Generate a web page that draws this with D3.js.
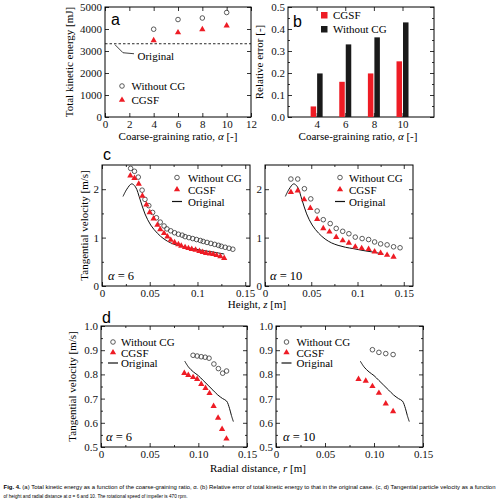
<!DOCTYPE html>
<html>
<head>
<meta charset="utf-8">
<script src="https://cdn.jsdelivr.net/npm/d3@7"></script>
<style>
body { margin: 0; background: #fff; }
svg { display: block; }
</style>
</head>
<body>
<svg id="fig" width="500" height="504"></svg>
<script>
// (a) total kinetic energy
var alphaRatios = [4, 6, 8, 10]
var energyWithoutCG = [3990, 4430, 4500, 4750]
var energyCGSF = [3480, 3840, 3980, 4150]
var energyOriginal = 3330

// (b) relative error
var errorCGSF = [0.048, 0.16, 0.198, 0.253]
var errorWithoutCG = [0.198, 0.33, 0.362, 0.43]

// (c) velocity vs height, original run (same in both panels)
var heightOrigZ = [0.022, 0.026, 0.031, 0.035, 0.040, 0.045, 0.051, 0.058, 0.065, 0.072, 0.079, 0.087, 0.096, 0.107, 0.117, 0.128]
var heightOrigV = [1.85, 2.00, 2.11, 2.05, 1.78, 1.49, 1.26, 1.09, 0.97, 0.89, 0.84, 0.80, 0.77, 0.73, 0.70, 0.66]

// alpha = 6
var h6WithoutZ = [0.030, 0.034, 0.038, 0.042, 0.045, 0.049, 0.053, 0.057, 0.061, 0.065, 0.068, 0.072, 0.076, 0.080, 0.084, 0.087, 0.091, 0.095, 0.099, 0.103, 0.106, 0.110, 0.114, 0.118, 0.122, 0.125, 0.129, 0.133, 0.137]
var h6WithoutV = [2.43, 2.37, 2.25, 1.98, 1.79, 1.66, 1.52, 1.41, 1.32, 1.24, 1.18, 1.14, 1.10, 1.07, 1.05, 1.02, 1.00, 0.98, 0.96, 0.94, 0.92, 0.90, 0.88, 0.86, 0.84, 0.82, 0.80, 0.78, 0.76]
var h6CgsfZ = [0.0297, 0.034, 0.0385, 0.0423, 0.0465, 0.050, 0.054, 0.058, 0.061, 0.065, 0.0685, 0.072, 0.076, 0.080, 0.083, 0.087, 0.0905, 0.094, 0.098, 0.102, 0.1055, 0.109, 0.113, 0.1165, 0.120, 0.124, 0.128]
var h6CgsfV = [2.28, 2.23, 2.11, 1.86, 1.68, 1.52, 1.39, 1.26, 1.17, 1.09, 1.02, 0.95, 0.90, 0.86, 0.83, 0.80, 0.78, 0.76, 0.745, 0.72, 0.70, 0.68, 0.67, 0.655, 0.635, 0.61, 0.575]

// alpha = 10
var h10WithoutZ = [0.028, 0.0354, 0.0426, 0.0495, 0.0564, 0.063, 0.0705, 0.077, 0.084, 0.0907, 0.0976, 0.105, 0.112, 0.1185, 0.125, 0.132, 0.139, 0.146]
var h10WithoutV = [2.21, 2.21, 2.01, 1.80, 1.55, 1.37, 1.29, 1.19, 1.13, 1.08, 1.01, 0.98, 0.96, 0.91, 0.87, 0.85, 0.81, 0.79]
var h10CgsfZ = [0.028, 0.0354, 0.0423, 0.049, 0.0564, 0.063, 0.0697, 0.077, 0.084, 0.0907, 0.0976, 0.1045, 0.112, 0.1185, 0.125, 0.132, 0.139]
var h10CgsfV = [1.94, 1.97, 1.79, 1.61, 1.38, 1.19, 1.12, 1.01, 0.94, 0.89, 0.81, 0.78, 0.76, 0.71, 0.68, 0.64, 0.60]

// (d) velocity vs radial distance
var radialOrigR = [0.086, 0.090, 0.095, 0.100, 0.105, 0.110, 0.115, 0.120, 0.125, 0.129, 0.132, 0.134, 0.136]
var radialOrigV = [0.855, 0.83, 0.81, 0.795, 0.775, 0.755, 0.735, 0.715, 0.70, 0.69, 0.66, 0.63, 0.605]
var r6WithoutR = [0.0946, 0.0988, 0.103, 0.107, 0.111, 0.116, 0.1206, 0.125, 0.129]
var r6WithoutV = [0.879, 0.876, 0.873, 0.871, 0.867, 0.843, 0.824, 0.805, 0.814]
var r6CgsfR = [0.0856, 0.0897, 0.0946, 0.0988, 0.103, 0.1074, 0.1115, 0.1157, 0.1203, 0.1244, 0.1289]
var r6CgsfV = [0.805, 0.797, 0.788, 0.780, 0.760, 0.743, 0.722, 0.669, 0.620, 0.574, 0.534]
var r10WithoutR = [0.0984, 0.105, 0.112, 0.1195]
var r10WithoutV = [0.902, 0.891, 0.886, 0.882]
var r10CgsfR = [0.0842, 0.0916, 0.0984, 0.105, 0.112, 0.1195]
var r10CgsfV = [0.78, 0.773, 0.751, 0.723, 0.679, 0.647]

// ticks
var aXTicks = [0, 2, 4, 6, 8, 10, 12]
var aYTicks = [0, 1000, 2000, 3000, 4000, 5000]
var bYTicks = [0, 0.1, 0.2, 0.3, 0.4, 0.5]
var bYMinor = [0.05, 0.15, 0.25, 0.35, 0.45]
var cXTicks = [0, 0.05, 0.1, 0.15]
var cXMinor = [0.025, 0.075, 0.125]
var cYTicks = [0, 1, 2]
var cYMinor = [0.5, 1.5]
var dYTicks = [0.5, 0.6, 0.7, 0.8, 0.9, 1.0]
var dYMinor = [0.55, 0.65, 0.75, 0.85, 0.95]

var RED = '#ee1c25'
var SERIF = 'Liberation Serif'
var SANS = 'Liberation Sans'
var svg = d3.select('#fig')
svg.append('rect').attr('width', 500).attr('height', 504).attr('fill', '#fff')

function zip(a, b) {
	return a.map(function(v, i) { return [v, b[i]] })
}

function frame(x, y, o) {
	var g = svg.append('g')
	var xr = x.range(), yr = y.range()
	function clean(sel) {
		sel.select('.domain').remove()
		sel.selectAll('.tick line').attr('stroke', '#000').attr('stroke-width', 0.8)
		sel.selectAll('text').attr('font-size', 11).attr('fill', '#111')
	}
	g.append('g').attr('transform', 'translate(0,' + yr[0] + ')')
		.call(d3.axisBottom(x).tickValues(o.xTicks).tickSize(-4).tickPadding(3).tickFormat(o.xFmt)).call(clean)
	g.append('g').attr('transform', 'translate(0,' + yr[1] + ')')
		.call(d3.axisTop(x).tickValues(o.xTicks).tickSize(-4).tickFormat('')).call(clean)
	g.append('g').attr('transform', 'translate(' + xr[0] + ',0)')
		.call(d3.axisLeft(y).tickValues(o.yTicks).tickSize(-4).tickPadding(3).tickFormat(o.yFmt)).call(clean)
	g.append('g').attr('transform', 'translate(' + xr[1] + ',0)')
		.call(d3.axisRight(y).tickValues(o.yTicks).tickSize(-4).tickFormat('')).call(clean)
	if (o.xMinor) {
		g.append('g').attr('transform', 'translate(0,' + yr[0] + ')')
			.call(d3.axisBottom(x).tickValues(o.xMinor).tickSize(-2).tickFormat('')).call(clean)
		g.append('g').attr('transform', 'translate(0,' + yr[1] + ')')
			.call(d3.axisTop(x).tickValues(o.xMinor).tickSize(-2).tickFormat('')).call(clean)
	}
	if (o.yMinor) {
		g.append('g').attr('transform', 'translate(' + xr[0] + ',0)')
			.call(d3.axisLeft(y).tickValues(o.yMinor).tickSize(-2).tickFormat('')).call(clean)
		g.append('g').attr('transform', 'translate(' + xr[1] + ',0)')
			.call(d3.axisRight(y).tickValues(o.yMinor).tickSize(-2).tickFormat('')).call(clean)
	}
	g.append('rect')
		.attr('x', xr[0]).attr('y', yr[1])
		.attr('width', xr[1] - xr[0]).attr('height', yr[0] - yr[1])
		.attr('fill', 'none').attr('stroke', '#000').attr('stroke-width', 1)
	return g
}

var tri = d3.symbol().type(d3.symbolTriangle).size(17)

function circles(x, y, xs, ys) {
	svg.append('g').selectAll('circle')
		.data(zip(xs, ys))
		.enter().append('circle')
		.attr('cx', function(d) { return x(d[0]) })
		.attr('cy', function(d) { return y(d[1]) })
		.attr('r', 2.3)
		.attr('fill', 'none')
		.attr('stroke', '#333')
		.attr('stroke-width', 0.8)
}

function triangles(x, y, xs, ys) {
	svg.append('g').selectAll('path')
		.data(zip(xs, ys))
		.enter().append('path')
		.attr('d', tri)
		.attr('transform', function(d) { return 'translate(' + x(d[0]) + ',' + y(d[1]) + ')' })
		.attr('fill', RED)
}

function curve(x, y, xs, ys) {
	var line = d3.line()
		.x(function(d) { return x(d[0]) })
		.y(function(d) { return y(d[1]) })
		.curve(d3.curveCatmullRom)
	svg.append('path').datum(zip(xs, ys))
		.attr('d', line)
		.attr('fill', 'none')
		.attr('stroke', '#111')
		.attr('stroke-width', 1)
}

function legend(mx, tx, ys, withLine) {
	var g = svg.append('g')
	g.append('circle').attr('cx', mx).attr('cy', ys[0]).attr('r', 2.3)
		.attr('fill', 'none').attr('stroke', '#333').attr('stroke-width', 0.8)
	g.append('text').attr('x', tx).attr('y', ys[0] + 4).attr('font-size', 11).text('Without CG')
	g.append('path').attr('d', tri).attr('transform', 'translate(' + mx + ',' + ys[1] + ')').attr('fill', RED)
	g.append('text').attr('x', tx).attr('y', ys[1] + 4).attr('font-size', 11).text('CGSF')
	if (withLine) {
		g.append('line').attr('x1', mx - 5).attr('x2', mx + 5).attr('y1', ys[2]).attr('y2', ys[2])
			.attr('stroke', '#111').attr('stroke-width', 1.2)
		g.append('text').attr('x', tx).attr('y', ys[2] + 4).attr('font-size', 11).text('Original')
	}
}

function panelLetter(x, y, s) {
	svg.append('text').attr('class', 'sans').attr('x', x).attr('y', y)
		.attr('font-size', 16).text(s)
}

function alphaLabel(x, y, v) {
	var t = svg.append('text').attr('x', x).attr('y', y).attr('font-size', 12.5)
	t.append('tspan').attr('font-style', 'italic').text('α')
	t.append('tspan').text(' = ' + v)
}

function yTitle(x, y, s) {
	svg.append('text').attr('transform', 'translate(' + x + ',' + y + ') rotate(-90)')
		.attr('text-anchor', 'middle').attr('font-size', 11).text(s)
}

function alphaTitle(x, y) {
	var t = svg.append('text').attr('x', x).attr('y', y).attr('text-anchor', 'middle').attr('font-size', 11)
	t.append('tspan').text('Coarse-graining ratio, ')
	t.append('tspan').attr('font-style', 'italic').text('α')
	t.append('tspan').text(' [-]')
}

function varTitle(x, y, pre, v, post) {
	var t = svg.append('text').attr('x', x).attr('y', y).attr('text-anchor', 'middle').attr('font-size', 11)
	t.append('tspan').text(pre)
	t.append('tspan').attr('font-style', 'italic').text(v)
	t.append('tspan').text(post)
}

// ---- panel a
var xa = d3.scaleLinear().domain([0, 12]).range([105, 251])
var ya = d3.scaleLinear().domain([0, 5000]).range([117, 7])
frame(xa, ya, { xTicks: aXTicks, yTicks: aYTicks, xFmt: d3.format('d'), yFmt: d3.format('d') })
svg.append('line').attr('x1', xa(0)).attr('x2', xa(12))
	.attr('y1', ya(energyOriginal)).attr('y2', ya(energyOriginal))
	.attr('stroke', '#111').attr('stroke-width', 0.9).attr('stroke-dasharray', '2.5,2')
svg.append('path')
	.attr('d', 'M' + (xa(0) + 10) + ',' + (ya(energyOriginal) + 1) + 'l8,8l11,1')
	.attr('fill', 'none').attr('stroke', '#111').attr('stroke-width', 0.8)
svg.append('text').attr('x', 137.5).attr('y', 59.5).attr('font-size', 11).text('Original')
circles(xa, ya, alphaRatios, energyWithoutCG)
triangles(xa, ya, alphaRatios, energyCGSF)
legend(122, 131.5, [86, 100], false)
panelLetter(111, 25, 'a')
yTitle(73, 62, 'Total kinetic energy [mJ]')
alphaTitle(178, 139.5)

// ---- panel b
var xb = d3.scaleLinear().domain([2, 12.2]).range([288, 434])
var yb = d3.scaleLinear().domain([0, 0.5]).range([117, 7])
frame(xb, yb, { xTicks: alphaRatios, yTicks: bYTicks, yMinor: bYMinor, xFmt: d3.format('d'), yFmt: d3.format('.1f') })
svg.append('g').selectAll('rect.cgsf')
	.data(zip(alphaRatios, errorCGSF))
	.enter().append('rect')
	.attr('x', function(d) { return xb(d[0]) - 6 })
	.attr('width', 5.5)
	.attr('y', function(d) { return yb(d[1]) })
	.attr('height', function(d) { return yb(0) - yb(d[1]) })
	.attr('fill', RED)
svg.append('g').selectAll('rect.wcg')
	.data(zip(alphaRatios, errorWithoutCG))
	.enter().append('rect')
	.attr('x', function(d) { return xb(d[0]) + 0.5 })
	.attr('width', 5.5)
	.attr('y', function(d) { return yb(d[1]) })
	.attr('height', function(d) { return yb(0) - yb(d[1]) })
	.attr('fill', '#1a1a1a')
svg.append('rect').attr('x', 321).attr('y', 12).attr('width', 6.5).attr('height', 6.5).attr('fill', RED)
svg.append('text').attr('x', 333).attr('y', 19).attr('font-size', 11).text('CGSF')
svg.append('rect').attr('x', 321).attr('y', 26).attr('width', 6.5).attr('height', 6.5).attr('fill', '#1a1a1a')
svg.append('text').attr('x', 333).attr('y', 33).attr('font-size', 11).text('Without CG')
panelLetter(293, 27, 'b')
yTitle(263, 62, 'Relative error [-]')
alphaTitle(358, 139.5)

// ---- panel c
var yc = d3.scaleLinear().domain([0, 2.5]).range([286, 165])
var xcL = d3.scaleLinear().domain([0, 0.155]).range([102, 250])
var xcR = d3.scaleLinear().domain([0, 0.16]).range([265, 413])
var cFmt = function(d) { return d === 0 ? '0' : String(d) }
frame(xcL, yc, { xTicks: cXTicks, xMinor: cXMinor, yTicks: cYTicks, yMinor: cYMinor, xFmt: cFmt, yFmt: d3.format('d') })
frame(xcR, yc, { xTicks: cXTicks, xMinor: cXMinor, yTicks: cYTicks, yMinor: cYMinor, xFmt: cFmt, yFmt: d3.format('d') })
curve(xcL, yc, heightOrigZ, heightOrigV)
circles(xcL, yc, h6WithoutZ, h6WithoutV)
triangles(xcL, yc, h6CgsfZ, h6CgsfV)
curve(xcR, yc, heightOrigZ, heightOrigV)
circles(xcR, yc, h10WithoutZ, h10WithoutV)
triangles(xcR, yc, h10CgsfZ, h10CgsfV)
legend(177, 188, [177.5, 189.5, 201.5], true)
legend(340, 349, [177.5, 189.5, 201.5], true)
alphaLabel(108, 280, 6)
alphaLabel(270, 280, 10)
panelLetter(103, 160, 'c')
yTitle(88, 225.5, 'Tangential velocity [m/s]')
varTitle(257, 307.5, 'Height, ', 'z', ' [m]')

// ---- panel d
var yd = d3.scaleLinear().domain([0.5, 1.0]).range([447, 326])
var xdL = d3.scaleLinear().domain([0, 0.15]).range([101, 247])
var xdR = d3.scaleLinear().domain([0, 0.15]).range([276, 423])
var dXFmt = function(d) { return d === 0 ? '0' : d3.format('.2f')(d) }
frame(xdL, yd, { xTicks: cXTicks, xMinor: cXMinor, yTicks: dYTicks, yMinor: dYMinor, xFmt: dXFmt, yFmt: d3.format('.1f') })
frame(xdR, yd, { xTicks: cXTicks, xMinor: cXMinor, yTicks: dYTicks, yMinor: dYMinor, xFmt: dXFmt, yFmt: d3.format('.1f') })
curve(xdL, yd, radialOrigR, radialOrigV)
circles(xdL, yd, r6WithoutR, r6WithoutV)
triangles(xdL, yd, r6CgsfR, r6CgsfV)
curve(xdR, yd, radialOrigR, radialOrigV)
circles(xdR, yd, r10WithoutR, r10WithoutV)
triangles(xdR, yd, r10CgsfR, r10CgsfV)
legend(113, 121, [342, 352.5, 363], true)
legend(286.5, 296.5, [342, 352.5, 363], true)
alphaLabel(106, 441, 6)
alphaLabel(283, 441, 10)
panelLetter(102, 323, 'd')
yTitle(76, 386.5, 'Tangential velocity [m/s]')
varTitle(258, 471.5, 'Radial distance, ', 'r', ' [m]')

// ---- caption
var cap1 = svg.append('text').attr('class', 'sans').attr('x', 3.5).attr('y', 489)
	.attr('font-size', 5.4)
	.attr('textLength', 492).attr('lengthAdjust', 'spacingAndGlyphs')
cap1.append('tspan').attr('font-weight', 'bold').text('Fig. 4.')
cap1.append('tspan').text(' (a) Total kinetic energy as a function of the coarse-graining ratio, α. (b) Relative error of total kinetic energy to that in the original case. (c, d) Tangential particle velocity as a function')
svg.append('text').attr('class', 'sans').attr('x', 3.5).attr('y', 497.5)
	.attr('font-size', 5.4)
	.attr('textLength', 184).attr('lengthAdjust', 'spacingAndGlyphs')
	.text('of height and radial distance at α = 6 and 10. The rotational speed of impeller is 470 rpm.')

// fonts: serif everywhere except panel letters and caption
svg.selectAll('text').style('font-family', SERIF)
svg.selectAll('text.sans').style('font-family', SANS)
svg.selectAll('text.sans tspan').style('font-family', SANS)
svg.selectAll('text:not(.sans) tspan').style('font-family', SERIF)
</script>
</body>
</html>
